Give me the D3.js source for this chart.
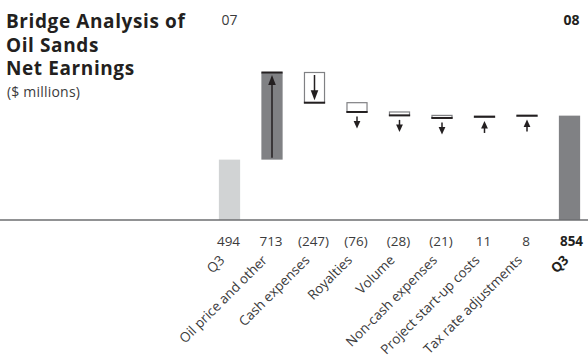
<!DOCTYPE html>
<html><head><meta charset="utf-8">
<script src="https://cdn.jsdelivr.net/npm/d3@7"></script>
<style>
html,body{margin:0;padding:0;background:#fff;}
svg{display:block;font-family:"Open Sans",sans-serif;}
</style></head>
<body>
<svg id="c" width="588" height="363"></svg>
<script>
const categories = ["Q3","Oil price and other","Cash expenses","Royalties","Volume","Non-cash expenses","Project start-up costs","Tax rate adjustments","Q3"];
const values = [494, 713, -247, -76, -28, -21, 11, 8, 854];
const valueLabels = ["494","713","(247)","(76)","(28)","(21)","11","8","854"];
const kinds = ["total","delta","delta","delta","delta","delta","delta","delta","total"];
const titleLines = ["Bridge Analysis of","Oil Sands","Net Earnings"];
const subtitle = "($ millions)";
const yearLabels = ["07","08"];

const svg = d3.select("#c");
const ink = "#231f20", txt = "#3b3b3c", dark = "#808184", light = "#d1d3d4";

let run = 0;
const segs = values.map((v,i)=>{
  let s;
  if (kinds[i]==="total"){ s={i,start:0,end:v,v}; run=v; }
  else { s={i,start:run,end:run+v,v}; run+=v; }
  return s;
});

const x = d3.scaleBand().domain(d3.range(categories.length)).range([208.25,590.75]).paddingInner(0.5).paddingOuter(0.25);
const y = d3.scaleLinear().domain([0,1207]).range([220,72.5]);

titleLines.forEach((t,k)=>{
  svg.append("text").attr("x",6).attr("y",28+k*23.5).attr("font-size",19).attr("font-weight",700)
    .attr("letter-spacing",0.6).attr("fill",ink).text(t);
});
svg.append("text").attr("x",7).attr("y",97).attr("font-size",14).attr("letter-spacing",0.2).attr("fill",txt).text(subtitle);

svg.append("text").attr("x",x(0)+x.bandwidth()/2).attr("y",25).attr("text-anchor","middle").attr("font-size",14).attr("fill",txt).text(yearLabels[0]);
svg.append("text").attr("x",x(8)+x.bandwidth()/2+2).attr("y",25).attr("text-anchor","middle").attr("font-size",14).attr("font-weight",700).attr("fill",ink).text(yearLabels[1]);

const g = svg.append("g");
segs.forEach(s=>{
  const bx = x(s.i), bw = x.bandwidth(), cx = bx+bw/2;
  const top = y(Math.max(s.start,s.end)), bot = y(Math.min(s.start,s.end));
  if (kinds[s.i]==="total"){
    g.append("rect").attr("x",bx).attr("y",top).attr("width",bw).attr("height",bot-top)
      .attr("fill", s.i===0?light:dark);
    return;
  }
  const pos = s.v>0;
  g.append("rect").attr("x",bx+(pos?0:0.6)).attr("y",top).attr("width",bw-(pos?0:1.2)).attr("height",Math.max(bot-top,0.5))
    .attr("fill",pos?dark:"#fff").attr("stroke",pos?"none":dark).attr("stroke-width",1.2);
  const ly = y(s.end);
  g.append("line").attr("x1",bx).attr("x2",bx+bw).attr("y1",ly).attr("y2",ly).attr("stroke",ink).attr("stroke-width",2);
  let tail, tip, big = (bot-top)>20;
  if (big){
    if (pos){ tail = bot-2; tip = top+2.5; } else { tail = top+2.5; tip = bot-2.5; }
  } else {
    const b = y(Math.min(s.start,s.end));
    if (pos){ tip = b+3; tail = tip+12; } else { tail = b+4.5; tip = tail+12; }
  }
  const dir = tip<tail ? 1 : -1;
  const hh = big?10:7.5, hw = big?3.8:3.4;
  g.append("line").attr("x1",cx).attr("x2",cx).attr("y1",tail).attr("y2",tip+dir*hh*0.6).attr("stroke",ink).attr("stroke-width",1.5);
  g.append("path").attr("d",`M${cx},${tip}L${cx-hw},${tip+dir*hh}L${cx+hw},${tip+dir*hh}Z`).attr("fill",ink);
});

svg.append("line").attr("x1",0).attr("x2",588).attr("y1",y(0)).attr("y2",y(0)).attr("stroke","#6d6e71").attr("stroke-width",1.5);

valueLabels.forEach((t,i)=>{
  const last = i===valueLabels.length-1;
  svg.append("text").attr("x",x(i)+x.bandwidth()/2+(last?2:-1)).attr("y",246).attr("text-anchor","middle")
    .attr("font-size",13.5).attr("font-weight",last?700:400).attr("fill",last?ink:txt).text(t);
});
categories.forEach((t,i)=>{
  const last = i===categories.length-1;
  const ax = x(i)+x.bandwidth()/2-(last?0:4), ay = 261;
  svg.append("text").attr("transform",`translate(${ax},${ay}) rotate(-45)`).attr("text-anchor","end")
    .attr("font-size",13.5).attr("font-weight",last?700:400).attr("fill",last?ink:txt).text(t);
});
</script>
</body></html>
